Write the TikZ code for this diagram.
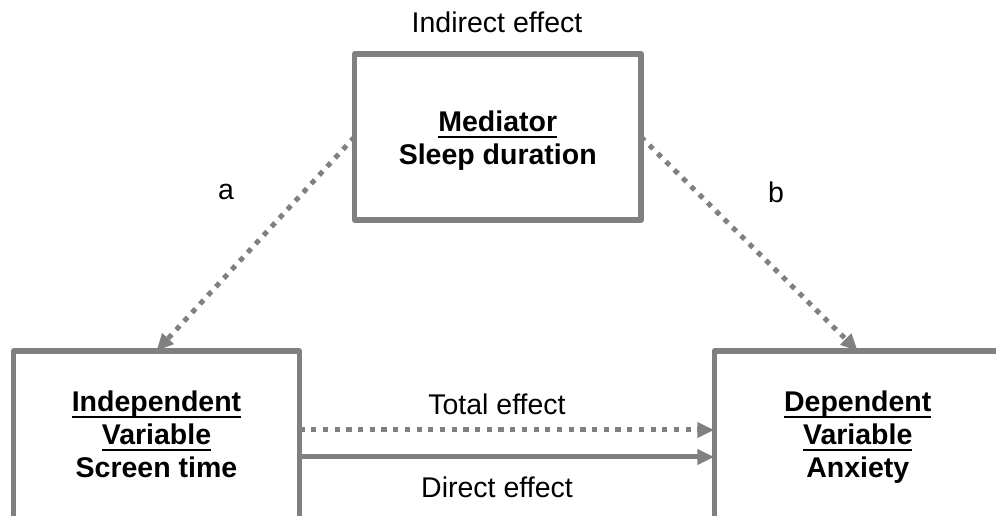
\documentclass[tikz,border=0pt]{standalone}
\usepackage{fontspec}
\setmainfont{Liberation Sans}
\usetikzlibrary{arrows.meta}
\definecolor{boxgray}{HTML}{808080}
\newcommand\myul[1]{\setbox0\hbox{#1}\rlap{\rule[-6.6pt]{\wd0}{2.6pt}}\box0}
\newcommand\mystrut{\rule[-7pt]{0pt}{26pt}}
\tikzset{
  varbox/.style={draw=boxgray, line width=5.2pt, line join=round, inner sep=0pt, outer sep=0pt},
  boxtext/.style={align=center, font=\fontsize{28.5}{33}\selectfont\bfseries, inner sep=0pt},
  plaintext/.style={font=\fontsize{28.5}{33}\selectfont, inner sep=0pt},
  dotarrow/.style={draw=boxgray, line width=5pt, dash pattern=on 5.2pt off 6.5pt,
    -{Triangle[length=17pt,width=15pt,fill=boxgray]}},
  solidarrow/.style={draw=boxgray, line width=5pt,
    -{Triangle[length=17pt,width=15pt,fill=boxgray]}}
}
\begin{document}
\begin{tikzpicture}[x=1pt,y=1pt]
\useasboundingbox (0,0) rectangle (996,516);
\clip (0,0) rectangle (996,516);
\fill[white] (0,0) rectangle (996,516);
% boxes
\node[varbox, minimum width=286.5pt, minimum height=166pt] (med) at (497.75,379) {};
\node[varbox, minimum width=286pt, minimum height=189pt] (iv) at (156.5,70.5) {};
\node[varbox, minimum width=287pt, minimum height=189pt] (dv) at (857.75,70.5) {};
% box texts
\node[boxtext] (medt) at (497.75,374.5) {\mystrut\myul{Mediator}\\\mystrut Sleep duration};
\node[boxtext] (ivt) at (156.5,78) {\mystrut\myul{Independent}\\\mystrut\myul{Variable}\\\mystrut Screen time};
\node[boxtext] (dvt) at (857.75,78) {\mystrut\myul{Dependent}\\\mystrut\myul{Variable}\\\mystrut Anxiety};
% labels
\node[plaintext] (ind) at (497,494) {Indirect effect};
\node[plaintext] (la) at (226,324) {a};
\node[plaintext] (lb) at (776,324) {b};
\node[plaintext] (tot) at (497,112) {Total effect};
\node[plaintext] (dir) at (497,29) {Direct effect};
% connectors
\draw[dotarrow] (med.west) -- (iv.north);
\draw[dotarrow] (med.east) -- (dv.north);
\draw[dotarrow] (iv.east |- 0,86) -- (dv.west |- 0,86);
\draw[solidarrow] (iv.east |- 0,59) -- (dv.west |- 0,59);
\end{tikzpicture}
\end{document}
